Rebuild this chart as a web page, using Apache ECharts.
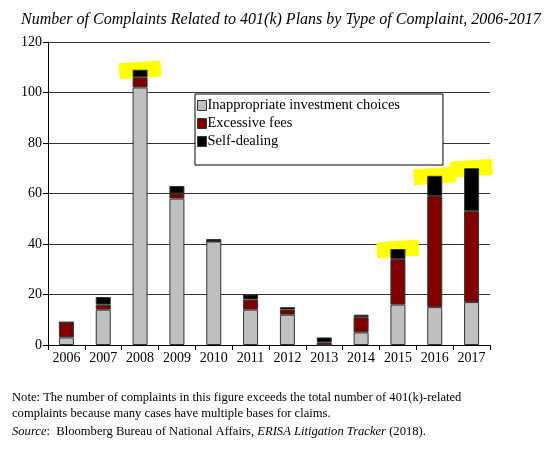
<!DOCTYPE html>
<html>
<head>
<meta charset="utf-8">
<script src="https://cdn.jsdelivr.net/npm/echarts@6/dist/echarts.min.js"></script>
<style>
  html, body { margin: 0; padding: 0; background: #fff; }
  #chart { width: 553px; height: 451px; }
</style>
</head>
<body>
<div id="chart"></div>
<script>
var years = ['2006', '2007', '2008', '2009', '2010', '2011', '2012', '2013', '2014', '2015', '2016', '2017'];
var inappropriate = [3, 14, 102, 58, 41, 14, 12, 0, 5, 16, 15, 17];
var excessiveFees = [6, 2, 4, 2, 0, 4, 2, 1, 6, 18, 44, 36];
var selfDealing = [0, 3, 3, 3, 1, 2, 1, 2, 1, 4, 8, 17];
// years circled in yellow on the original
var highlighted = ['2008', '2015', '2016', '2017'];

var serif = '"Liberation Serif", "Times New Roman", serif';
var myChart = echarts.init(document.getElementById('chart'));

var highlightData = [];
for (var i = 0; i < years.length; i++) {
    if (highlighted.indexOf(years[i]) >= 0) {
        var total = inappropriate[i] + excessiveFees[i] + selfDealing[i];
        highlightData.push([years[i], total]);
    }
}

var barStyle = function (color) {
    return { color: color, borderColor: '#333', borderWidth: 1 };
};

var option = {
    animation: false,
    backgroundColor: '#fff',
    title: {
        text: 'Number of Complaints Related to 401(k) Plans by Type of Complaint, 2006-2017',
        left: 16,
        top: 7,
        textStyle: { fontFamily: serif, fontStyle: 'italic', fontWeight: 'normal', fontSize: 16, color: '#000' }
    },
    legend: {
        data: ['Inappropriate investment choices', 'Excessive fees', 'Self-dealing'],
        orient: 'vertical',
        left: 195,
        top: 94,
        padding: [4, 43, 16, 2],
        itemGap: 3,
        itemWidth: 9,
        itemHeight: 10,
        icon: 'rect',
        itemStyle: { borderColor: '#333', borderWidth: 1 },
        borderColor: '#000',
        borderWidth: 1,
        backgroundColor: '#fff',
        textStyle: { fontFamily: serif, fontSize: 14.5, color: '#000', padding: [0, 0, 0, -4] }
    },
    grid: { left: 48, right: 63, top: 42, bottom: 106 },
    xAxis: {
        type: 'category',
        data: years,
        axisLine: { lineStyle: { color: '#000' } },
        axisTick: { show: true, length: 5, lineStyle: { color: '#000' } },
        axisLabel: { fontFamily: serif, fontSize: 14, color: '#000', margin: 6 }
    },
    yAxis: {
        type: 'value',
        min: 0,
        max: 120,
        interval: 20,
        axisLine: { show: true, lineStyle: { color: '#000' } },
        axisTick: { show: true, length: 5, lineStyle: { color: '#000' } },
        axisLabel: { fontFamily: serif, fontSize: 14, color: '#000', margin: 6 },
        splitLine: { lineStyle: { color: '#333' } }
    },
    series: [
        {
            name: 'highlight',
            type: 'scatter',
            data: highlightData,
            symbol: 'rect',
            symbolSize: [42, 16],
            symbolRotate: 4,
            itemStyle: { color: '#ffff00', opacity: 1 },
            z: 1,
            silent: true
        },
        {
            name: 'Inappropriate investment choices',
            type: 'bar',
            stack: 'total',
            barWidth: 15,
            data: inappropriate,
            itemStyle: barStyle('#c0c0c0'),
            z: 3
        },
        {
            name: 'Excessive fees',
            type: 'bar',
            stack: 'total',
            barWidth: 15,
            data: excessiveFees,
            itemStyle: barStyle('#800000'),
            z: 3
        },
        {
            name: 'Self-dealing',
            type: 'bar',
            stack: 'total',
            barWidth: 15,
            data: selfDealing,
            itemStyle: barStyle('#000000'),
            z: 3
        }
    ],
    graphic: [
        {
            type: 'text',
            left: 12,
            top: 390,
            style: {
                text: 'Note: The number of complaints in this figure exceeds the total number of 401(k)-related\ncomplaints because many cases have multiple bases for claims.',
                font: '12.6px ' + serif,
                fill: '#000',
                lineHeight: 16
            }
        },
        {
            type: 'text',
            left: 12,
            top: 425,
            style: {
                text: '{i|Source}:  Bloomberg Bureau of National Affairs, {i|ERISA Litigation Tracker} (2018).',
                font: '12.6px ' + serif,
                fill: '#000',
                rich: {
                    i: { fontStyle: 'italic', fontFamily: serif, fontSize: 12.6 }
                }
            }
        }
    ]
};
myChart.setOption(option);
</script>
</body>
</html>
